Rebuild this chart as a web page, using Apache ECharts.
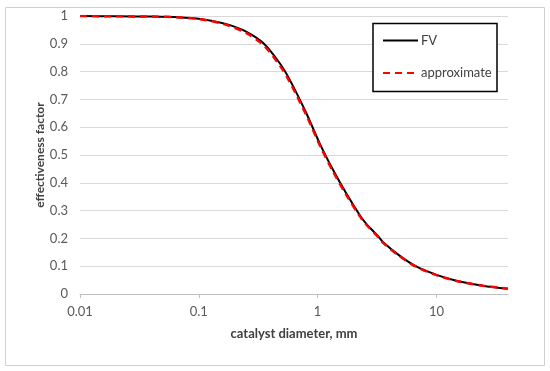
<!DOCTYPE html>
<html>
<head>
<meta charset="utf-8">
<script src="https://cdn.jsdelivr.net/npm/echarts@6/dist/echarts.min.js"></script>
<style>html,body{margin:0;padding:0;background:#fff;}#c{width:550px;height:371px;}</style>
</head>
<body>
<div id="c"></div>
<script>
var diameters = [0.01, 0.02, 0.04, 0.07, 0.1, 0.13, 0.18, 0.25, 0.35, 0.48, 0.58, 0.8, 1.04, 1.35, 1.74, 2.25, 2.57, 3.21, 3.54, 4.89, 6.75, 10, 14.7, 24.5, 40];
var fvValues = [1.000, 0.999, 0.998, 0.995, 0.990, 0.982, 0.968, 0.944, 0.902, 0.830, 0.772, 0.652, 0.542, 0.446, 0.362, 0.285, 0.252, 0.209, 0.187, 0.138, 0.099, 0.069, 0.048, 0.030, 0.019];
var approxValues = [1.000, 0.999, 0.998, 0.995, 0.989, 0.981, 0.965, 0.939, 0.895, 0.822, 0.764, 0.645, 0.536, 0.440, 0.357, 0.281, 0.249, 0.206, 0.185, 0.136, 0.098, 0.068, 0.047, 0.030, 0.019];
var xTickLabels = ['0.01', '0.1', '1', '10'];
var yTickLabels = ['0', '0.1', '0.2', '0.3', '0.4', '0.5', '0.6', '0.7', '0.8', '0.9', '1'];

function pairs(xs, ys) { return xs.map(function (x, i) { return [x, ys[i]]; }); }

var FONT = 'Lato, "Open Sans", sans-serif';
var chart = echarts.init(document.getElementById('c'), null, {renderer: 'canvas'});
chart.setOption({
  animation: false,
  backgroundColor: '#fff',
  grid: {left: 80, right: 42, top: 16, bottom: 77, containLabel: false},
  graphic: [
    {type: 'rect', z: 0, shape: {x: 5.5, y: 7.5, width: 539, height: 358}, style: {fill: 'none', stroke: '#d0d0d0', lineWidth: 1}},
    {type: 'rect', z: 3, shape: {x: 373, y: 23.5, width: 124, height: 68}, style: {fill: '#fff', stroke: '#000', lineWidth: 1.5}}
  ],
  legend: {
    z: 10,
    orient: 'vertical',
    left: 382,
    top: 34,
    itemWidth: 35,
    itemHeight: 14,
    itemGap: 19.6,
    padding: 0,
    itemStyle: {opacity: 0},
    textStyle: {fontFamily: FONT, fontSize: 13, color: '#404040', padding: [0, 0, 0, -2]},
    data: ['FV', 'approximate']
  },
  xAxis: {
    type: 'log',
    logBase: 10,
    min: 0.01,
    max: 40,
    name: 'catalyst diameter, mm',
    nameLocation: 'middle',
    nameGap: 33,
    nameTextStyle: {fontFamily: FONT, fontSize: 13, fontWeight: 'bold', color: '#404040'},
    axisLine: {show: true, onZero: false, lineStyle: {color: '#bfbfbf', width: 1}},
    axisTick: {show: true, length: 4, inside: false, lineStyle: {color: '#bfbfbf'}},
    axisLabel: {
      margin: 11,
      fontFamily: FONT, fontSize: 13, color: '#595959',
      showMaxLabel: false,
      formatter: function (v) {
        var idx = [0.01, 0.1, 1, 10].findIndex(function (t) { return Math.abs(Math.log10(v) - Math.log10(t)) < 1e-6; });
        return idx >= 0 ? xTickLabels[idx] : '';
      }
    },
    splitLine: {show: false},
    minorTick: {show: false}
  },
  yAxis: {
    type: 'value',
    min: 0,
    max: 1,
    interval: 0.1,
    name: 'effectiveness factor',
    nameLocation: 'middle',
    nameRotate: 90,
    nameGap: 34,
    nameMoveOverlap: false,
    nameTextStyle: {fontFamily: FONT, fontSize: 12, fontWeight: 'bold', color: '#404040'},
    axisLine: {show: false},
    axisTick: {show: false},
    axisLabel: {
      margin: 12,
      fontFamily: FONT, fontSize: 13, color: '#595959',
      formatter: function (v) { return yTickLabels[Math.round(v * 10)]; }
    },
    splitLine: {show: true, lineStyle: {color: '#d9d9d9', width: 1}}
  },
  series: [
    {
      name: 'FV', type: 'line', smooth: 0.3, symbol: 'none', z: 2,
      lineStyle: {color: '#000', width: 2},
      itemStyle: {color: '#000'},
      data: pairs(diameters, fvValues)
    },
    {
      name: 'approximate', type: 'line', smooth: 0.3, symbol: 'none', z: 3,
      lineStyle: {color: '#ff0000', width: 2.5, type: [7, 5]},
      itemStyle: {color: '#ff0000'},
      data: pairs(diameters, approxValues)
    }
  ]
});
</script>
</body>
</html>
